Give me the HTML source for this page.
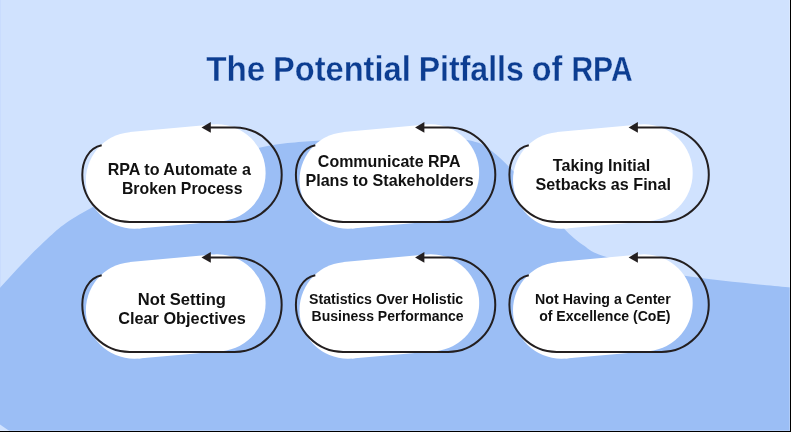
<!DOCTYPE html>
<html><head><meta charset="utf-8"><style>
html,body{margin:0;padding:0;width:791px;height:432px;overflow:hidden;background:#D0E2FE;}
svg{display:block;position:absolute;left:0;top:0;will-change:transform;}
text{font-family:"Liberation Sans",sans-serif;font-weight:bold;fill:#111;}
.ttl{fill:#0C3D91;stroke:#D0E2FE;stroke-width:0.3px;}
</style></head><body>
<svg width="791" height="432" viewBox="0 0 791 432">
<rect width="791" height="432" fill="#D0E2FE"/>
<path d="M-5.0,293.0 C-4.2,292.1 -7.3,295.5 0.0,287.8 C7.3,280.1 25.8,259.0 39.0,246.8 C52.2,234.6 58.8,226.6 79.0,214.8 C99.2,203.0 130.2,187.1 160.0,176.0 C189.8,164.9 231.0,153.9 258.0,148.0 C285.0,142.1 298.3,142.3 322.0,140.5 C345.7,138.7 375.8,137.1 400.0,137.0 C424.2,136.9 451.0,137.1 467.0,140.0 C483.0,142.9 484.7,145.3 496.0,154.5 C507.3,163.7 523.7,182.7 535.0,195.0 C546.3,207.3 556.0,220.2 564.0,228.5 C572.0,236.8 575.9,240.2 583.0,245.0 C590.1,249.8 590.0,251.9 606.7,257.0 C623.4,262.1 651.6,270.3 683.0,275.5 C714.4,280.7 776.3,285.9 795.0,288.0 L795,440 L-5,440 Z" fill="#9BBEF5"/>
<circle cx="134.30" cy="180.30" r="48.40" fill="#fff"/><circle cx="217.00" cy="172.90" r="48.60" fill="#fff"/><path d="M138.50,228.52 L221.21,221.32 L212.55,124.50 L129.87,132.10 Z" fill="#fff"/>
<path d="M101.70,145.30 C88.00,148.00 82.30,162.00 82.30,174.65 A47.25,47.25 0 0 0 129.55,221.90 L234.45,221.90 A47.25,47.25 0 0 0 234.45,127.40 L209.00,127.40" fill="none" stroke="#231F20" stroke-width="2"/>
<path d="M201.50,127.40 L210.80,122.00 L210.80,132.80 Z" fill="#231F20"/>
<text x="107.72" y="174.90" font-size="16.50" textLength="143.17" lengthAdjust="spacingAndGlyphs">RPA to Automate a</text>
<text x="121.94" y="193.60" font-size="16.50" textLength="120.51" lengthAdjust="spacingAndGlyphs">Broken Process</text>
<circle cx="347.90" cy="180.30" r="48.40" fill="#fff"/><circle cx="430.60" cy="172.90" r="48.60" fill="#fff"/><path d="M352.10,228.52 L434.81,221.32 L426.15,124.50 L343.47,132.10 Z" fill="#fff"/>
<path d="M315.30,145.30 C301.60,148.00 295.90,162.00 295.90,174.65 A47.25,47.25 0 0 0 343.15,221.90 L448.05,221.90 A47.25,47.25 0 0 0 448.05,127.40 L422.60,127.40" fill="none" stroke="#231F20" stroke-width="2"/>
<path d="M415.10,127.40 L424.40,122.00 L424.40,132.80 Z" fill="#231F20"/>
<text x="317.84" y="167.10" font-size="16.50" textLength="142.78" lengthAdjust="spacingAndGlyphs">Communicate RPA</text>
<text x="305.42" y="185.60" font-size="16.50" textLength="168.34" lengthAdjust="spacingAndGlyphs">Plans to Stakeholders</text>
<circle cx="561.40" cy="180.30" r="48.40" fill="#fff"/><circle cx="644.10" cy="172.90" r="48.60" fill="#fff"/><path d="M565.60,228.52 L648.31,221.32 L639.65,124.50 L556.97,132.10 Z" fill="#fff"/>
<path d="M528.80,145.30 C515.10,148.00 509.40,162.00 509.40,174.65 A47.25,47.25 0 0 0 556.65,221.90 L661.55,221.90 A47.25,47.25 0 0 0 661.55,127.40 L636.10,127.40" fill="none" stroke="#231F20" stroke-width="2"/>
<path d="M628.60,127.40 L637.90,122.00 L637.90,132.80 Z" fill="#231F20"/>
<text x="552.82" y="170.90" font-size="16.50" textLength="97.42" lengthAdjust="spacingAndGlyphs">Taking Initial</text>
<text x="535.54" y="189.60" font-size="16.50" textLength="135.41" lengthAdjust="spacingAndGlyphs">Setbacks as Final</text>
<circle cx="134.30" cy="310.30" r="48.40" fill="#fff"/><circle cx="217.00" cy="302.90" r="48.60" fill="#fff"/><path d="M138.50,358.52 L221.21,351.32 L212.55,254.50 L129.87,262.10 Z" fill="#fff"/>
<path d="M101.70,275.30 C88.00,278.00 82.30,292.00 82.30,304.65 A47.25,47.25 0 0 0 129.55,351.90 L234.45,351.90 A47.25,47.25 0 0 0 234.45,257.40 L209.00,257.40" fill="none" stroke="#231F20" stroke-width="2"/>
<path d="M201.50,257.40 L210.80,252.00 L210.80,262.80 Z" fill="#231F20"/>
<text x="137.69" y="305.00" font-size="16.50" textLength="88.21" lengthAdjust="spacingAndGlyphs">Not Setting</text>
<text x="118.13" y="323.80" font-size="16.50" textLength="127.74" lengthAdjust="spacingAndGlyphs">Clear Objectives</text>
<circle cx="347.90" cy="310.30" r="48.40" fill="#fff"/><circle cx="430.60" cy="302.90" r="48.60" fill="#fff"/><path d="M352.10,358.52 L434.81,351.32 L426.15,254.50 L343.47,262.10 Z" fill="#fff"/>
<path d="M315.30,275.30 C301.60,278.00 295.90,292.00 295.90,304.65 A47.25,47.25 0 0 0 343.15,351.90 L448.05,351.90 A47.25,47.25 0 0 0 448.05,257.40 L422.60,257.40" fill="none" stroke="#231F20" stroke-width="2"/>
<path d="M415.10,257.40 L424.40,252.00 L424.40,262.80 Z" fill="#231F20"/>
<text x="309.09" y="304.00" font-size="14.50" textLength="154.12" lengthAdjust="spacingAndGlyphs">Statistics Over Holistic</text>
<text x="311.56" y="320.60" font-size="14.50" textLength="152.12" lengthAdjust="spacingAndGlyphs">Business Performance</text>
<circle cx="561.40" cy="310.30" r="48.40" fill="#fff"/><circle cx="644.10" cy="302.90" r="48.60" fill="#fff"/><path d="M565.60,358.52 L648.31,351.32 L639.65,254.50 L556.97,262.10 Z" fill="#fff"/>
<path d="M528.80,275.30 C515.10,278.00 509.40,292.00 509.40,304.65 A47.25,47.25 0 0 0 556.65,351.90 L661.55,351.90 A47.25,47.25 0 0 0 661.55,257.40 L636.10,257.40" fill="none" stroke="#231F20" stroke-width="2"/>
<path d="M628.60,257.40 L637.90,252.00 L637.90,262.80 Z" fill="#231F20"/>
<text x="535.05" y="304.00" font-size="14.50" textLength="135.77" lengthAdjust="spacingAndGlyphs">Not Having a Center</text>
<text x="539.15" y="320.60" font-size="14.50" textLength="131.35" lengthAdjust="spacingAndGlyphs">of Excellence (CoE)</text>
<text x="206.13" y="80.8" font-size="34.6" class="ttl" textLength="59.11" lengthAdjust="spacingAndGlyphs">The</text>
<text x="273.02" y="80.8" font-size="34.6" class="ttl" textLength="137.69" lengthAdjust="spacingAndGlyphs">Potential</text>
<text x="418.76" y="80.8" font-size="34.6" class="ttl" textLength="105.06" lengthAdjust="spacingAndGlyphs">Pitfalls</text>
<text x="531.74" y="80.8" font-size="34.6" class="ttl" textLength="30.50" lengthAdjust="spacingAndGlyphs">of</text>
<text x="571.39" y="80.8" font-size="34.6" class="ttl" textLength="61.31" lengthAdjust="spacingAndGlyphs">RPA</text>
<path d="M0,424.5 Q5,428 9.5,431 L0,431 Z" fill="#D0E2FE"/>
<rect x="0" y="0" width="1" height="287" fill="#0030ff" fill-opacity="0.03"/>
<rect x="789" y="0" width="1" height="430" fill="#fff" fill-opacity="0.22"/>
<rect x="0" y="430" width="790" height="1" fill="#fff" fill-opacity="0.25"/>
<rect x="790" y="0" width="1" height="432" fill="#000"/>
<rect x="0" y="431" width="791" height="1" fill="#000"/>
</svg>
</body></html>
